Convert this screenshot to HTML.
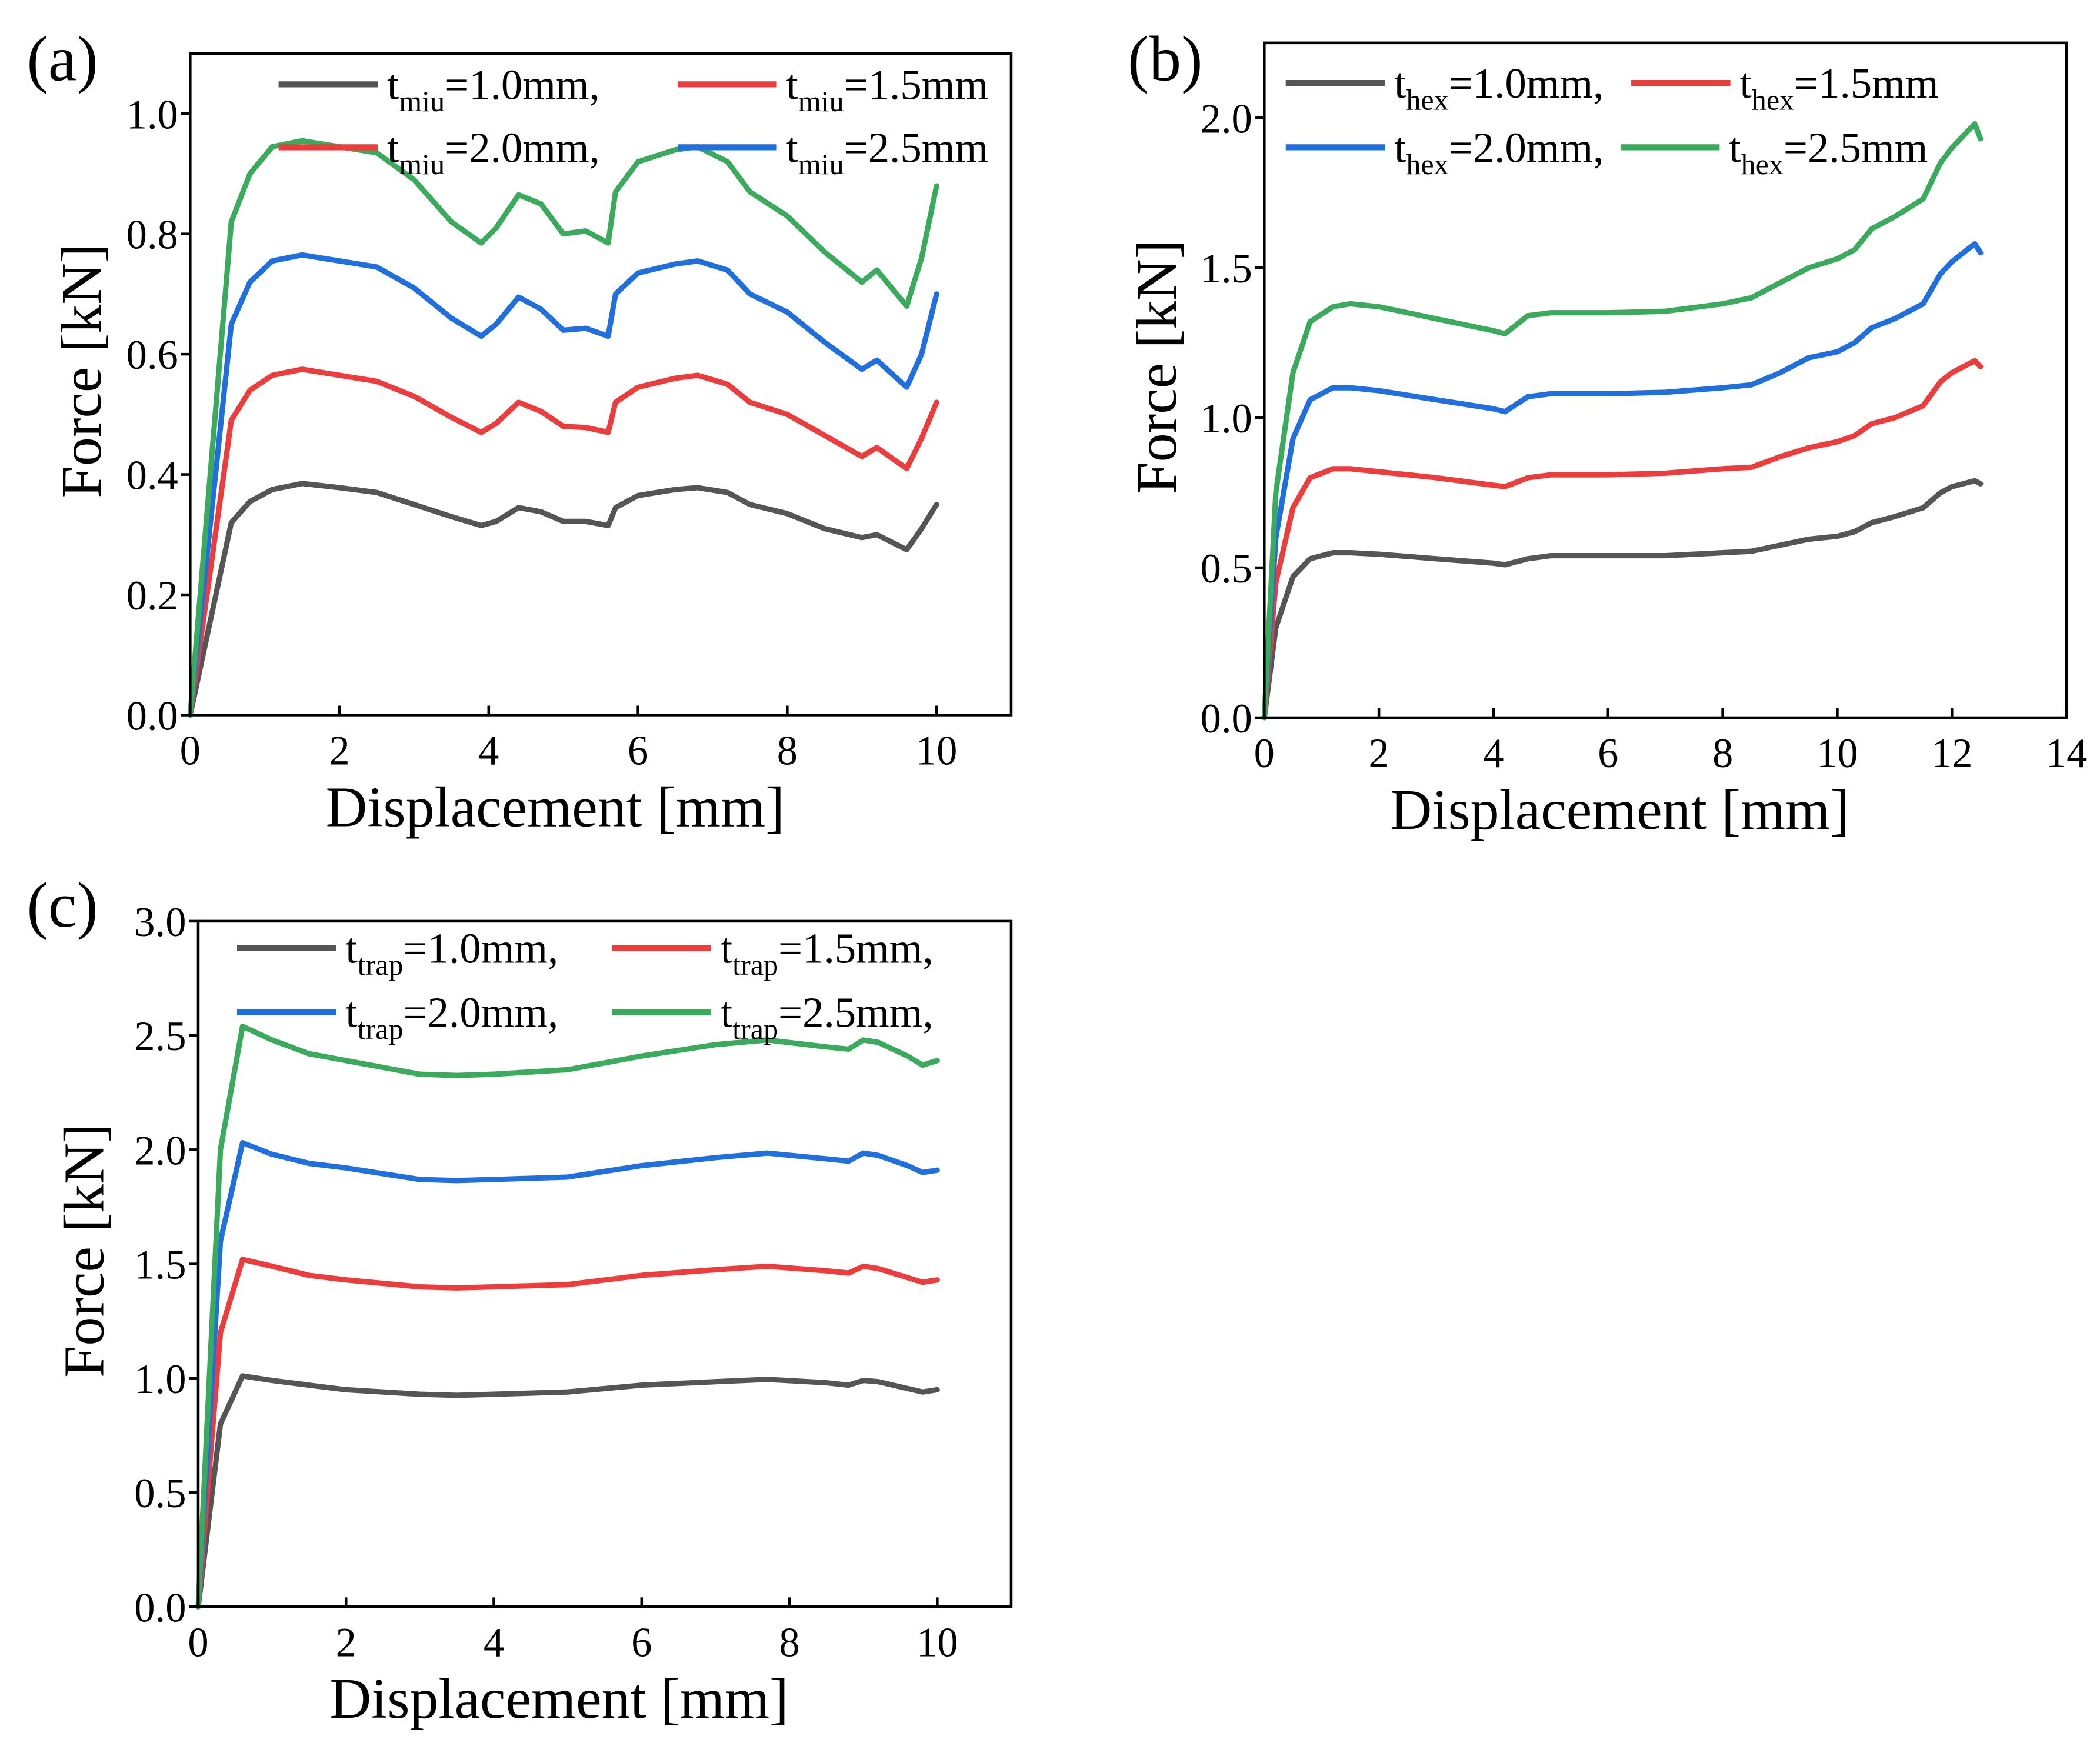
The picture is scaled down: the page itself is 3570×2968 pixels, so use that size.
<!DOCTYPE html>
<html><head><meta charset="utf-8"><title>Force-displacement curves</title>
<style>
html,body{margin:0;padding:0;background:#fff;}
svg{display:block;}
text{font-family:"Liberation Serif","Times New Roman",serif;fill:#000;}
</style></head>
<body>
<svg id="fig" width="3570" height="2968" viewBox="0 0 1568 1304" preserveAspectRatio="none" xmlns="http://www.w3.org/2000/svg"></svg>
<script>
// ---- Panel (a) data ----
const aX = [0,0.55,0.8,1.1,1.5,2,2.5,3,3.5,3.9,4.1,4.4,4.7,5,5.3,5.6,5.7,6,6.5,6.8,7.2,7.5,8,8.5,9,9.2,9.6,9.8,10];
const aY10 = [0,0.32,0.355,0.375,0.385,0.378,0.37,0.35,0.33,0.315,0.322,0.345,0.338,0.322,0.322,0.315,0.345,0.365,0.375,0.378,0.37,0.35,0.335,0.31,0.295,0.3,0.275,0.31,0.35];
const aY15 = [0,0.49,0.54,0.565,0.575,0.565,0.555,0.53,0.495,0.47,0.485,0.52,0.505,0.48,0.478,0.47,0.52,0.545,0.56,0.565,0.55,0.52,0.5,0.465,0.43,0.445,0.41,0.46,0.52];
const aY20 = [0,0.65,0.72,0.755,0.765,0.755,0.745,0.71,0.66,0.63,0.65,0.695,0.675,0.64,0.643,0.63,0.7,0.735,0.75,0.755,0.74,0.7,0.67,0.62,0.575,0.59,0.545,0.6,0.7];
const aY25 = [0,0.82,0.9,0.945,0.955,0.945,0.935,0.89,0.82,0.785,0.81,0.865,0.85,0.8,0.805,0.785,0.87,0.92,0.94,0.945,0.92,0.87,0.83,0.77,0.72,0.74,0.68,0.76,0.88];
const aXTicks = [0,2,4,6,8,10];
const aYTicks = ["0.0","0.2","0.4","0.6","0.8","1.0"];
// ---- Panel (b) data ----
const bX = [0,0.2,0.5,0.8,1.2,1.5,2,3,4,4.2,4.6,5,6,7,8,8.5,9,9.5,10,10.3,10.6,11,11.5,11.8,12,12.4,12.5];
const bY10 = [0,0.3,0.47,0.53,0.55,0.55,0.545,0.53,0.515,0.51,0.53,0.54,0.54,0.54,0.55,0.555,0.575,0.595,0.605,0.62,0.65,0.67,0.7,0.75,0.77,0.79,0.78];
const bY15 = [0,0.45,0.7,0.8,0.83,0.83,0.82,0.8,0.775,0.77,0.8,0.81,0.81,0.815,0.83,0.835,0.87,0.9,0.92,0.94,0.98,1.0,1.04,1.12,1.15,1.19,1.17];
const bY20 = [0,0.6,0.93,1.06,1.1,1.1,1.09,1.06,1.03,1.02,1.07,1.08,1.08,1.085,1.1,1.11,1.15,1.2,1.22,1.25,1.3,1.33,1.38,1.48,1.52,1.58,1.55];
const bY25 = [0,0.75,1.15,1.32,1.37,1.38,1.37,1.33,1.29,1.28,1.34,1.35,1.35,1.355,1.38,1.4,1.45,1.5,1.53,1.56,1.63,1.67,1.73,1.85,1.9,1.98,1.93];
const bXTicks = [0,2,4,6,8,10,12,14];
const bYTicks = ["0.0","0.5","1.0","1.5","2.0"];
// ---- Panel (c) data ----
const cX = [0,0.3,0.6,1,1.5,2,3,3.5,4,5,6,7,7.7,8.5,8.8,9,9.2,9.6,9.8,10];
const cY10 = [0,0.8,1.01,0.99,0.97,0.95,0.93,0.925,0.93,0.94,0.97,0.985,0.995,0.98,0.97,0.99,0.985,0.955,0.94,0.95];
const cY15 = [0,1.2,1.52,1.49,1.45,1.43,1.4,1.395,1.4,1.41,1.45,1.475,1.49,1.47,1.46,1.49,1.48,1.44,1.42,1.43];
const cY20 = [0,1.6,2.03,1.98,1.94,1.92,1.87,1.865,1.87,1.88,1.93,1.965,1.985,1.96,1.95,1.985,1.975,1.93,1.9,1.91];
const cY25 = [0,2.0,2.54,2.48,2.42,2.39,2.33,2.325,2.33,2.35,2.41,2.46,2.48,2.45,2.44,2.48,2.47,2.41,2.37,2.39];
const cXTicks = [0,2,4,6,8,10];
const cYTicks = ["0.0","0.5","1.0","1.5","2.0","2.5","3.0"];

const NS = "http://www.w3.org/2000/svg";
const svg = document.getElementById('fig');
const COL = {k:"#555555", r:"#ee3b3b", b:"#1f6fe0", g:"#3aaa5c"};
function mk(tag, attrs, parent){
  const e = document.createElementNS(NS, tag);
  for (const k in attrs) e.setAttribute(k, attrs[k]);
  (parent||svg).appendChild(e);
  return e;
}
function panel(cfg){
  const g = mk('g', {});
  
  
  const sx = v => cfg.L + (v - cfg.x0) / (cfg.x1 - cfg.x0) * (cfg.R - cfg.L);
  const sy = v => cfg.B - (v - cfg.y0) / (cfg.y1 - cfg.y0) * (cfg.B - cfg.T);
  cfg.series.forEach((s, i) => {
    const pts = cfg.xs.map((x, j) => sx(x).toFixed(1) + ',' + sy(s.y[j]).toFixed(1)).join(' ');
    const p = mk('polyline', {points: pts, fill: 'none', stroke: s.c, 'stroke-width': 4, 'stroke-linejoin': 'round', 'stroke-linecap': 'round'}, g);
    
    
  });
  const f = mk('rect', {x: cfg.L, y: cfg.T, width: cfg.R - cfg.L, height: cfg.B - cfg.T, fill: 'none', stroke: '#000', 'stroke-width': 2}, g);
  
  
  cfg.xt.forEach(v => {
    const x = sx(v);
    mk('line', {x1: x, x2: x, y1: cfg.B, y2: cfg.B - 7, stroke: '#000', 'stroke-width': 2}, g);
    const t = mk('text', {x: x, y: cfg.B + 37, 'font-size': 31, 'text-anchor': 'middle'}, g);
    t.textContent = v;
    
    
  });
  cfg.yt.forEach(v => {
    const y = sy(parseFloat(v));
    mk('line', {x1: cfg.L, x2: cfg.L - 7, y1: y, y2: y, stroke: '#000', 'stroke-width': 2}, g);
    const t = mk('text', {x: cfg.L - 9, y: y + 11, 'font-size': 31, 'text-anchor': 'end'}, g);
    t.textContent = v;
    
    
  });
  const xt = mk('text', {x: (cfg.L + cfg.R) / 2 - 34, y: cfg.B + 83, 'font-size': 43, 'text-anchor': 'middle'}, g);
  xt.textContent = 'Displacement [mm]';
  
  
  const cy = (cfg.T + cfg.B) / 2 - 10;
  const yt = mk('text', {x: 0, y: 0, 'font-size': 43, 'text-anchor': 'middle', transform: 'translate(' + cfg.ytx + ',' + cy + ') rotate(-90)'}, g);
  yt.textContent = 'Force [kN]';
  
  
  const pl = mk('text', {x: cfg.plx, y: cfg.ply, 'font-size': 48}, g);
  pl.textContent = '(' + cfg.id + ')';
  
  
  cfg.leg.forEach(e => {
    const lg = mk('g', {}, g);
    
    
    mk('line', {x1: e.x, x2: e.x + 74, y1: e.y, y2: e.y, stroke: e.c, 'stroke-width': 4.5}, lg);
    const t = mk('text', {x: e.x + 81, y: e.y + 11, 'font-size': 32}, lg);
    const ts = document.createElementNS(NS, 'tspan'); ts.textContent = 't'; t.appendChild(ts);
    const sb = document.createElementNS(NS, 'tspan'); sb.setAttribute('font-size', 22); sb.setAttribute('dy', 9); sb.textContent = cfg.sub; t.appendChild(sb);
    const rs = document.createElementNS(NS, 'tspan'); rs.setAttribute('dy', -9); rs.textContent = e.t; t.appendChild(rs);
  });
}
panel({id:'a', L:142, R:755, T:40, B:534, x0:0, x1:11, y0:0, y1:1.1, xs:aX,
  series:[{n:'1-0mm',c:COL.k,y:aY10},{n:'1-5mm',c:COL.r,y:aY15},{n:'2-0mm',c:COL.b,y:aY20},{n:'2-5mm',c:COL.g,y:aY25}],
  xt:aXTicks, yt:aYTicks, ytx:75, plx:20, ply:60, sub:'miu',
  leg:[{x:208,y:63,c:COL.k,t:'=1.0mm,'},{x:506,y:63,c:COL.r,t:'=1.5mm'},{x:208,y:110,c:COL.r,t:'=2.0mm,'},{x:506,y:110,c:COL.b,t:'=2.5mm'}]});
panel({id:'b', L:944, R:1543, T:32, B:536, x0:0, x1:14, y0:0, y1:2.25, xs:bX,
  series:[{n:'1-0mm',c:COL.k,y:bY10},{n:'1-5mm',c:COL.r,y:bY15},{n:'2-0mm',c:COL.b,y:bY20},{n:'2-5mm',c:COL.g,y:bY25}],
  xt:bXTicks, yt:bYTicks, ytx:878, plx:842, ply:60, sub:'hex',
  leg:[{x:960,y:62,c:COL.k,t:'=1.0mm,'},{x:1218,y:62,c:COL.r,t:'=1.5mm'},{x:960,y:110,c:COL.b,t:'=2.0mm,'},{x:1210,y:110,c:COL.g,t:'=2.5mm'}]});
panel({id:'c', L:148, R:755, T:688, B:1200, x0:0, x1:11, y0:0, y1:3.0, xs:cX,
  series:[{n:'1-0mm',c:COL.k,y:cY10},{n:'1-5mm',c:COL.r,y:cY15},{n:'2-0mm',c:COL.b,y:cY20},{n:'2-5mm',c:COL.g,y:cY25}],
  xt:cXTicks, yt:cYTicks, ytx:77, plx:20, ply:692, sub:'trap',
  leg:[{x:177,y:708,c:COL.k,t:'=1.0mm,'},{x:457,y:708,c:COL.r,t:'=1.5mm,'},{x:177,y:756,c:COL.b,t:'=2.0mm,'},{x:457,y:756,c:COL.g,t:'=2.5mm,'}]});
</script>
</body></html>
